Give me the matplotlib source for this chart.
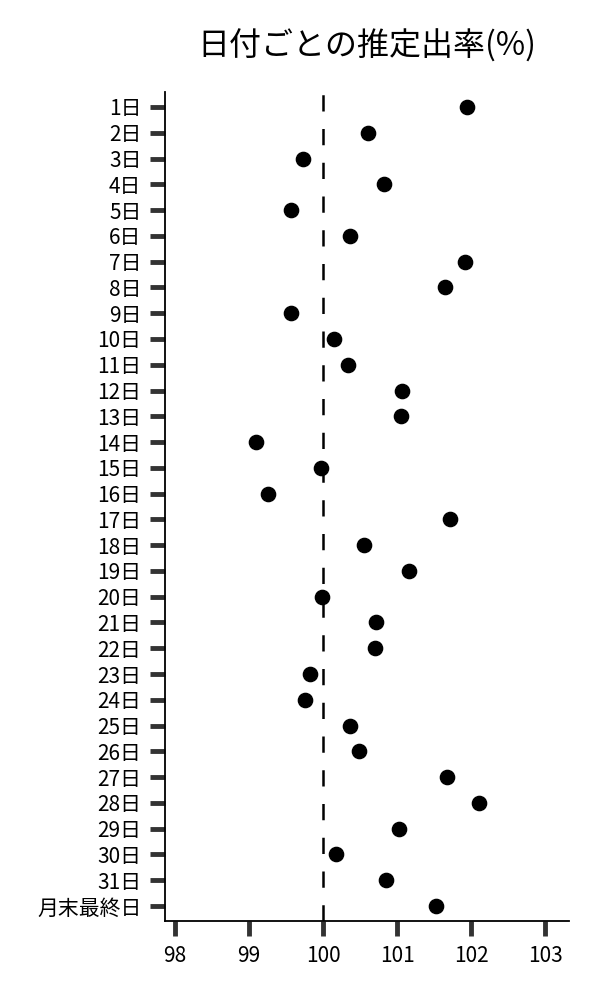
import matplotlib
matplotlib.use("Agg")
import matplotlib.pyplot as plt

plt.rcParams['font.family'] = ['Noto Sans CJK JP', 'DejaVu Sans']

days = [f"{i}日" for i in range(1, 32)] + ["月末最終日"]
rates = [101.95, 100.61, 99.73, 100.82, 99.57, 100.36, 101.92, 101.65,
         99.57, 100.15, 100.34, 101.06, 101.05, 99.10, 99.97, 99.25,
         101.71, 100.56, 101.16, 99.99, 100.72, 100.70, 99.83, 99.75,
         100.36, 100.49, 101.67, 102.11, 101.02, 100.17, 100.85, 101.52]
xticks = [98, 99, 100, 101, 102, 103]

fig = plt.figure(figsize=(6, 10), dpi=100)
ax = fig.add_axes([0.275, 0.079, 0.673, 0.829])

ypos = list(range(len(days)))
ax.axvline(100, color="black", lw=1.8, linestyle=(0, (6.5, 7)), zorder=1)
ax.scatter(rates, ypos, s=105, color="black", zorder=3)

ax.set_yticks(ypos)
ax.set_yticklabels(days)
ax.set_ylim(len(days) - 0.42, -0.58)
ax.set_xticks(xticks)
ax.set_xlim(97.865, 103.32)

for s in ["top", "right"]:
    ax.spines[s].set_visible(False)
for s in ["left", "bottom"]:
    ax.spines[s].set_linewidth(1.3)
ax.tick_params(axis="both", length=11, width=3.5, color="#333333",
               labelsize=15, pad=6)

ax.set_title("日付ごとの推定出率(%)", fontsize=23, pad=26)

fig.savefig("out.png")
